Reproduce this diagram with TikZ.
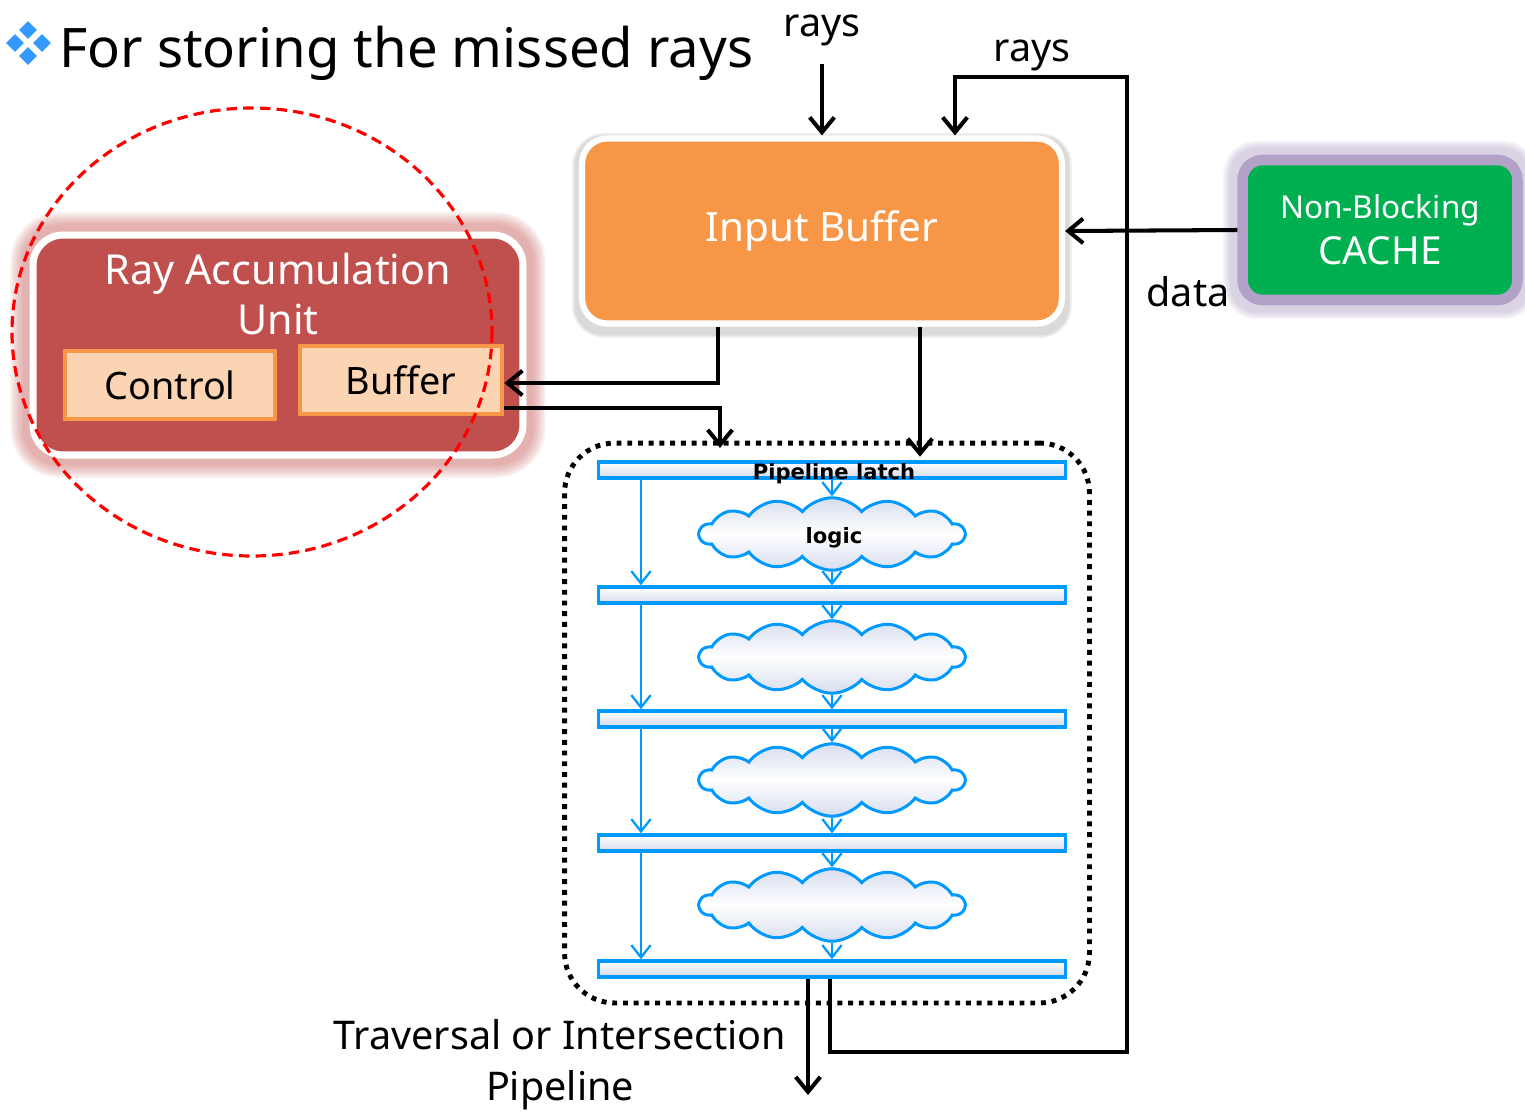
\documentclass[tikz,border=0pt]{standalone}
\usepackage{fontspec}
\setmainfont{Noto Sans}
\newfontfamily\tagfont{DejaVu Sans}
\usetikzlibrary{arrows.meta,shapes.symbols,backgrounds,calc}

\definecolor{ibOrange}{RGB}{247,150,70}
\definecolor{rauRed}{RGB}{192,80,77}
\definecolor{subFill}{RGB}{251,212,180}
\definecolor{cacheGreen}{RGB}{0,176,80}
\definecolor{cacheRim}{RGB}{178,162,199}
\definecolor{pipeBlue}{RGB}{0,153,255}
\definecolor{bulletBlue}{RGB}{51,153,255}
\definecolor{latchGrey}{RGB}{212,218,234}
\definecolor{cloudGrey}{RGB}{214,221,238}

\tikzset{
  arr/.style={line width=2.3pt, line join=miter,
    -{Straight Barb[length=8.5pt,width=14pt,line width=2.3pt]}},
  barr/.style={draw=pipeBlue, line width=1.3pt,
    -{Straight Barb[length=7pt,width=11pt,line width=1.3pt]}},
  txt/.style={inner sep=0pt, align=center, font=\fontsize{22.5}{29}\selectfont},
  tag/.style={inner sep=0pt, font=\tagfont\bfseries\fontsize{12}{14}\selectfont},
  latch/.style={draw=pipeBlue, line width=2pt, top color=white,
    bottom color=latchGrey, minimum width=9.35cm, minimum height=0.32cm,
    inner sep=0pt},
  logiccloud/.style={cloud, cloud puffs=14, cloud puff arc=100, aspect=3.5,
    draw=pipeBlue, line width=1.7pt, top color=cloudGrey,
    bottom color=cloudGrey, middle color=white, minimum width=5.3cm,
    minimum height=1.45cm, inner sep=0pt},
  subbox/.style={draw=ibOrange, fill=subFill, line width=2.4pt,
    minimum width=4.2cm, minimum height=1.35cm, inner sep=0pt,
    font=\fontsize{21.5}{25}\selectfont},
  bullet/.style={fill=bulletBlue, minimum size=0.25cm, inner sep=0pt,
    rotate=45}
}

\begin{document}
\begin{tikzpicture}[x=0.02cm, y=-0.02cm]
\useasboundingbox (0,0) rectangle (1525,1113);

% title with its four-diamond bullet
\node[bullet] (bulN) at (28,30) {};
\node[bullet] (bulW) at (15,43) {};
\node[bullet] (bulE) at (42,43) {};
\node[bullet] (bulS) at (28,56) {};
\node[anchor=base west, inner sep=0pt, font=\fontsize{31}{36}\selectfont]
  (title) at (59,67) {For storing the missed rays};

% input buffer
\node[fill=ibOrange, draw=white, line width=3.5pt, rounded corners=0.5cm,
      minimum width=9.6cm, minimum height=3.7cm, text=white,
      font=\fontsize{23}{27}\selectfont] (input) at (822,231) {Input Buffer};

% non-blocking cache
\node[fill=cacheGreen, draw=cacheRim, line width=6pt, rounded corners=0.4cm,
      minimum width=5.5cm, minimum height=2.8cm, text=white, align=center,
      font=\fontsize{18}{26}\selectfont] (cache) at (1380,230)
      {Non-Blocking\\{\fontsize{22}{26}\selectfont CACHE}};

% ray accumulation unit
\node[fill=rauRed, draw=white, line width=4pt, rounded corners=0.6cm,
      minimum width=9.8cm, minimum height=4.4cm] (rau) at (278,345) {};
\node[txt, text=white, font=\fontsize{23.5}{29}\selectfont]
  (rauname) at (278,294) {Ray Accumulation\\Unit};
\node[subbox] (control) at (170,385) {Control};
\node[subbox, minimum width=4.05cm] (buffer) at (401,380) {Buffer};

% region of interest
\draw[red, line width=1.8pt, dash pattern=on 6pt off 3.5pt]
  (252,332) ellipse [x radius=240, y radius=224];

% pipeline frame
\node[draw, line width=2.8pt, dash pattern=on 2.8pt off 3.3pt,
      rounded corners=1cm, minimum width=10.5cm, minimum height=11.2cm]
      (pipe) at (827,723) {};

% latches and logic clouds
\node[latch] (latch1) at (832,470) {};
\node[latch] (latch2) at (832,595) {};
\node[latch] (latch3) at (832,719) {};
\node[latch] (latch4) at (832,843) {};
\node[latch] (latch5) at (832,969) {};
\node[tag] (latchname) at (834,474) {Pipeline latch};

\node[logiccloud] (cloud1) at (832,534) {};
\node[logiccloud] (cloud2) at (832,657) {};
\node[logiccloud] (cloud3) at (832,780) {};
\node[logiccloud] (cloud4) at (832,905) {};
\node[tag] (logicname) at (834,538) {logic};

\coordinate (lx) at (641,0);
\coordinate (cx) at (832,0);
\foreach \a/\b in {1/2,2/3,3/4,4/5}{
  \draw[barr] (latch\a.south -| lx) -- (latch\b.north -| lx);
  \draw[barr] (latch\a.south -| cx) -- (cloud\a.north -| cx);
  \draw[barr] (cloud\a.south -| cx) -- (latch\b.north -| cx);
}

% incoming rays
\node[txt] (rays1) at (822,30) {rays};
\node[txt] (rays2) at (1032,55) {rays};
\coordinate (raysIn) at (822,64);
\draw[arr] (raysIn) -- (input.north -| raysIn);

% data from cache
\draw[arr] (cache.west) -- (input.east);
\node[txt] (data) at (1188,292) {data};

% input buffer <-> accumulation buffer
\coordinate (toAcc) at (718,383);
\draw[arr] (input.south -| toAcc) -- (toAcc) -- (buffer.east |- toAcc);
\coordinate (fromAcc) at (720,408);
\draw[arr, shorten >=7pt] (buffer.east |- fromAcc) -- (fromAcc) -- (latch1.north -| fromAcc);
\coordinate (direct) at (920,0);
\draw[arr, shorten >=2pt] (input.south -| direct) -- (latch1.north -| direct);

% pipeline output and feedback loop
\coordinate (outEnd) at (808,1095);
\draw[arr] (latch5.south -| outEnd) -- (outEnd);
\coordinate (fbA) at (830,1052);
\coordinate (fbB) at (1127,1052);
\coordinate (fbC) at (1127,77);
\coordinate (fbD) at (955,77);
\draw[arr] (latch5.south -| fbA) -- (fbA) -- (fbB) -- (fbC) -- (fbD)
  -- (input.north -| fbD);

\node[txt] (pipetitle) at (560,1065) {Traversal or Intersection\\Pipeline};

% soft glows and shadow
\begin{pgfonlayer}{background}
  \foreach \w in {22,20,...,8}
    \draw[rauRed, opacity=0.07, line width=\w pt, rounded corners=0.6cm]
      (rau.south west) rectangle (rau.north east);
  \foreach \w in {16,14,...,8}
    \draw[cacheRim, opacity=0.12, line width=\w pt, rounded corners=0.4cm]
      (cache.south west) rectangle (cache.north east);
  \foreach \w in {8,6.5,5}
    \draw[black, opacity=0.05, line width=\w pt, rounded corners=0.5cm]
      ([yshift=-2.5pt]input.south west) rectangle ([yshift=-2.5pt]input.north east);
\end{pgfonlayer}
\end{tikzpicture}
\end{document}
